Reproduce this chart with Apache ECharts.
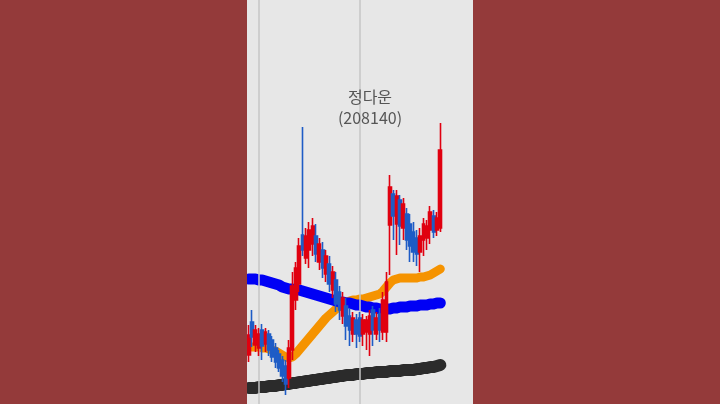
<!DOCTYPE html>
<html><head><meta charset="utf-8">
<script src="https://cdn.jsdelivr.net/npm/echarts@6/dist/echarts.min.js"></script>
<style>html,body{margin:0;padding:0;background:#943a3a}#c{width:720px;height:404px}</style>
</head><body><div id="c"></div>
<script>
const titleName = '정다운';
const titleCode = '(208140)';
const categories = Array.from({length: 58}, (_, i) => 'D' + (i + 1));
// [open, close, low, high]
const candles = [
  [49,69,42,79],[82,67,57,94],[59,74,52,79],[56,70,48,76],[74,58,44,80],
  [60,72,52,76],[70,54,48,74],[64,47,42,68],[56,42,36,61],[50,36,32,54],
  [44,28,22,48],[38,20,9,44],[26,56,16,64],[54,118,44,132],[104,136,94,142],
  [120,158,112,166],[169,154,148,277],[146,168,140,176],[154,174,136,182],[160,178,148,186],
  [168,150,142,180],[142,160,134,166],[154,136,126,162],[130,148,122,154],[140,120,112,148],
  [114,132,106,138],[124,100,92,132],[112,94,84,118],[88,106,80,112],[98,78,64,106],
  [88,74,58,96],[70,86,62,92],[84,70,56,90],[86,68,62,92],[70,84,58,90],
  [72,84,54,88],[70,88,48,94],[94,74,58,98],[70,86,64,92],[90,74,62,96],
  [72,104,64,112],[72,122,62,132],[179,217,129,229],[210,188,164,214],[180,208,149,214],
  [204,178,159,209],[176,200,164,206],[190,164,154,196],[180,158,142,190],[172,152,142,182],
  [166,150,138,174],[152,168,132,176],[164,180,148,186],[166,178,154,184],[174,192,160,198],
  [188,172,166,194],[174,186,168,192],[176,254,172,281]
];
const maBlue = [125,125,125,124,124,123,122,121,120,119,117,116,115,115,114,114,113,112,111,110,
  109,108,107,106,105,104,103,102,102,101,101,100,99,99,98,97,97,96,96,95,
  95,95,95,96,96,97,97,97,98,98,98,99,99,99,100,100,101,101];
const maOrange = [57,57,57,57,56,56,55,54,53,51,49,47,46,47,50,54,58,62,66,70,
  74,78,82,86,89,92,95,98,100,102,103,104,104,105,105,106,107,108,109,110,
  113,117,121,124,125,126,126,126,126,126,126,127,127,128,129,131,133,135];
const maBlack = [16,16,16,17,17,17,18,18,18,19,19,20,20,21,21,22,22,23,23,24,
  24,25,25,26,26,27,27,28,28,29,29,29,30,30,30,31,31,31,32,32,
  32,32,33,33,33,33,34,34,34,34,35,35,36,36,37,37,38,39];
const guideLines = ['D4', 'D34'];

const chart = echarts.init(document.getElementById('c'));
const lineSeries = (data, color, width, extra) => Object.assign({
  type: 'line', data, showSymbol: false, symbol: 'none', smooth: false, z: 2,
  lineStyle: {color, width, cap: 'round', join: 'round'}, silent: true
}, extra || {});
chart.setOption({
  animation: false,
  backgroundColor: '#e7e7e7',
  graphic: [
    {type: 'rect', z: 100, shape: {x: 0, y: 0, width: 247, height: 404}, style: {fill: '#943a3a'}},
    {type: 'rect', z: 100, shape: {x: 473, y: 0, width: 247, height: 404}, style: {fill: '#943a3a'}}
  ],
  title: {
    text: titleName + '\n' + titleCode, left: 370, top: 86, padding: 0, textAlign: 'center',
    textStyle: {fontFamily: 'Noto Sans CJK KR', fontSize: 16, fontWeight: 'normal', color: '#555', lineHeight: 21}
  },
  grid: {left: 247, right: 278, top: 0, bottom: 0},
  xAxis: {type: 'category', data: categories, show: false, boundaryGap: true},
  yAxis: {type: 'value', min: 0, max: 404, show: false},
  series: [
    lineSeries(maBlack, '#2b2b2b', 12, {
      markLine: {silent: true, symbol: 'none', label: {show: false},
        lineStyle: {color: '#c6c6c6', width: 1.5, type: 'solid'},
        data: guideLines.map(c => ({xAxis: c}))}
    }),
    lineSeries(maOrange, '#f59300', 9),
    lineSeries(maBlue, '#0000f5', 11),
    {
      type: 'candlestick', data: candles, z: 5, barWidth: 3.4,
      itemStyle: {color: '#e00010', color0: '#1e5cc6', borderColor: '#e00010', borderColor0: '#1e5cc6', borderWidth: 1.6}
    }
  ]
});
</script></body></html>
